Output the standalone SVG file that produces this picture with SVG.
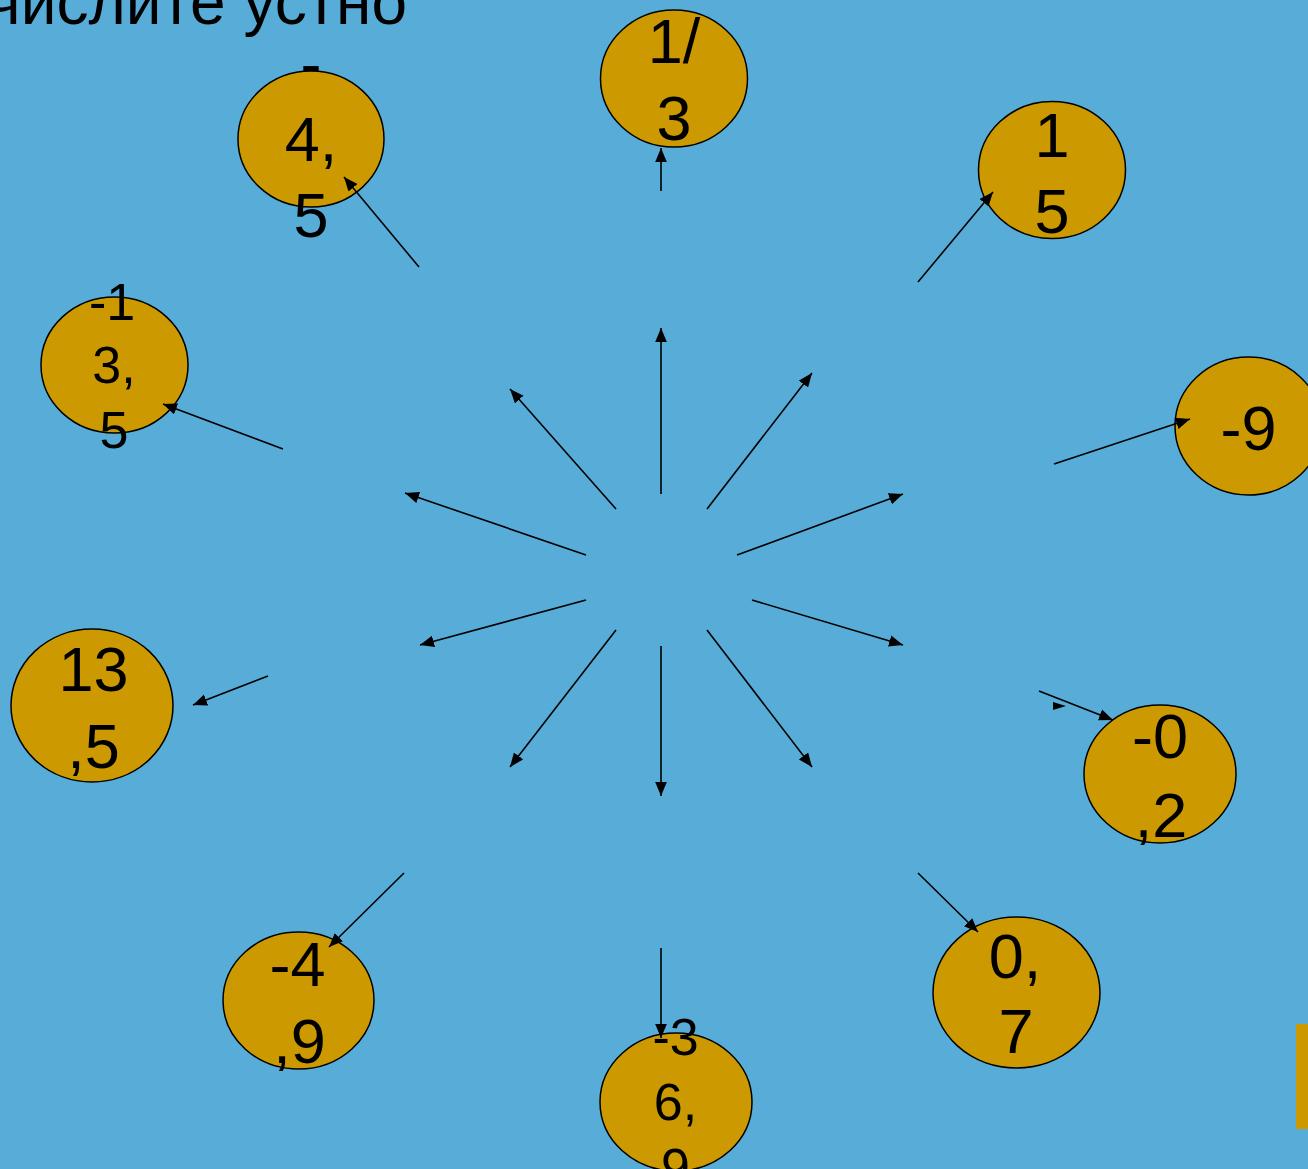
<svg xmlns="http://www.w3.org/2000/svg" width="1308" height="1169" viewBox="0 0 1308 1169">
<style>
.bg{fill:#58acd8}
.c{fill:#cc9900;stroke:#000;stroke-width:1.5}
.t{font-family:"Liberation Sans",Arial,sans-serif;fill:#000;text-anchor:middle}
.big{font-size:63px}
.sm{font-size:52px}
.title{font-family:"Liberation Sans",Arial,sans-serif;font-size:64px;fill:#000;text-anchor:end}
.a{stroke:#000;stroke-width:1.6;fill:none;marker-end:url(#ah)}
</style>
<defs>
<marker id="ah" markerUnits="userSpaceOnUse" markerWidth="14" markerHeight="12" refX="12" refY="5" orient="auto" viewBox="0 0 12 10">
<path d="M0,0 L12,5 L0,10 z" fill="#000"/>
</marker>
</defs>
<rect class="bg" x="0" y="0" width="1308" height="1169"/>
<text class="title" x="407" y="24">Вычислите устно</text>
<rect x="1296" y="1024" width="12" height="105" fill="#cc9900"/>

<g id="n-45"><ellipse class="c" cx="311" cy="139" rx="73" ry="68"/>
<text class="t big" x="311"><tspan x="311" y="85">-</tspan><tspan x="311" y="161">4,</tspan><tspan x="311" y="237">5</tspan></text></g>

<g id="n-13"><ellipse class="c" cx="674" cy="78.5" rx="73.5" ry="68.5"/>
<text class="t big" x="674"><tspan x="674" y="63">1/</tspan><tspan x="674" y="140">3</tspan></text></g>

<g id="n-15"><ellipse class="c" cx="1052" cy="170" rx="73.5" ry="68.5"/>
<text class="t big" x="1052"><tspan x="1052" y="157">1</tspan><tspan x="1052" y="233">5</tspan></text></g>

<g id="n-m135"><ellipse class="c" cx="114.5" cy="365" rx="73.5" ry="68"/>
<text class="t sm" x="114"><tspan x="112" y="320">-1</tspan><tspan x="114" y="383">3,</tspan><tspan x="114" y="448">5</tspan></text></g>

<g id="n-m9"><ellipse class="c" cx="1248.5" cy="426" rx="73.5" ry="69"/>
<text class="t big" x="1248.5" y="450">-9</text></g>

<g id="n-m02"><ellipse class="c" cx="1160" cy="774" rx="76" ry="69"/>
<text class="t big" x="1160"><tspan x="1160" y="758">-0</tspan><tspan x="1161" y="837">,2</tspan></text></g>

<g id="n-07"><ellipse class="c" cx="1016.5" cy="992.5" rx="83.5" ry="75.5"/>
<text class="t big" x="1016"><tspan x="1015" y="978">0,</tspan><tspan x="1016" y="1053">7</tspan></text></g>

<g id="n-m369"><ellipse class="c" cx="676" cy="1102" rx="76" ry="69"/>
<text class="t sm" x="675.5"><tspan x="675.5" y="1055">-3</tspan><tspan x="675.5" y="1120">6,</tspan><tspan x="675.5" y="1185">9</tspan></text></g>

<g id="n-m49"><ellipse class="c" cx="298.5" cy="1000.5" rx="75.5" ry="68.5"/>
<text class="t big" x="298.5"><tspan x="297.5" y="986">-4</tspan><tspan x="299.5" y="1063">,9</tspan></text></g>

<g id="n-135"><ellipse class="c" cx="92" cy="705.5" rx="81" ry="76.5"/>
<text class="t big" x="93.5"><tspan x="93.5" y="691">13</tspan><tspan x="93.5" y="768">,5</tspan></text></g>

<g id="connectors">
<line class="a" x1="661" y1="494" x2="661" y2="328"/>
<line class="a" x1="616" y1="509" x2="510" y2="389"/>
<line class="a" x1="707" y1="509" x2="812" y2="373"/>
<line class="a" x1="586" y1="555" x2="405" y2="493"/>
<line class="a" x1="737" y1="555" x2="903" y2="494"/>
<line class="a" x1="586" y1="600" x2="420" y2="645"/>
<line class="a" x1="752" y1="600" x2="903" y2="645"/>
<line class="a" x1="616" y1="630" x2="510" y2="767"/>
<line class="a" x1="707" y1="630" x2="812" y2="767"/>
<line class="a" x1="661" y1="646" x2="661" y2="796"/>

<line class="a" x1="661" y1="191" x2="661" y2="148"/>
<line class="a" x1="419" y1="267" x2="344" y2="177"/>
<line class="a" x1="918" y1="282" x2="993" y2="192"/>
<line class="a" x1="283" y1="449" x2="163" y2="404"/>
<line class="a" x1="1054" y1="464" x2="1190" y2="419"/>
<line class="a" x1="268" y1="676" x2="193" y2="705"/>
<line class="a" x1="1039" y1="691" x2="1113" y2="720"/>
<path d="M1053,702 L1066,706 L1053,710 z" fill="#000"/>
<line class="a" x1="404" y1="873" x2="329" y2="947"/>
<line class="a" x1="918" y1="873" x2="978" y2="932"/>
<line class="a" x1="661" y1="948" x2="661" y2="1038"/>
</g>
</svg>
